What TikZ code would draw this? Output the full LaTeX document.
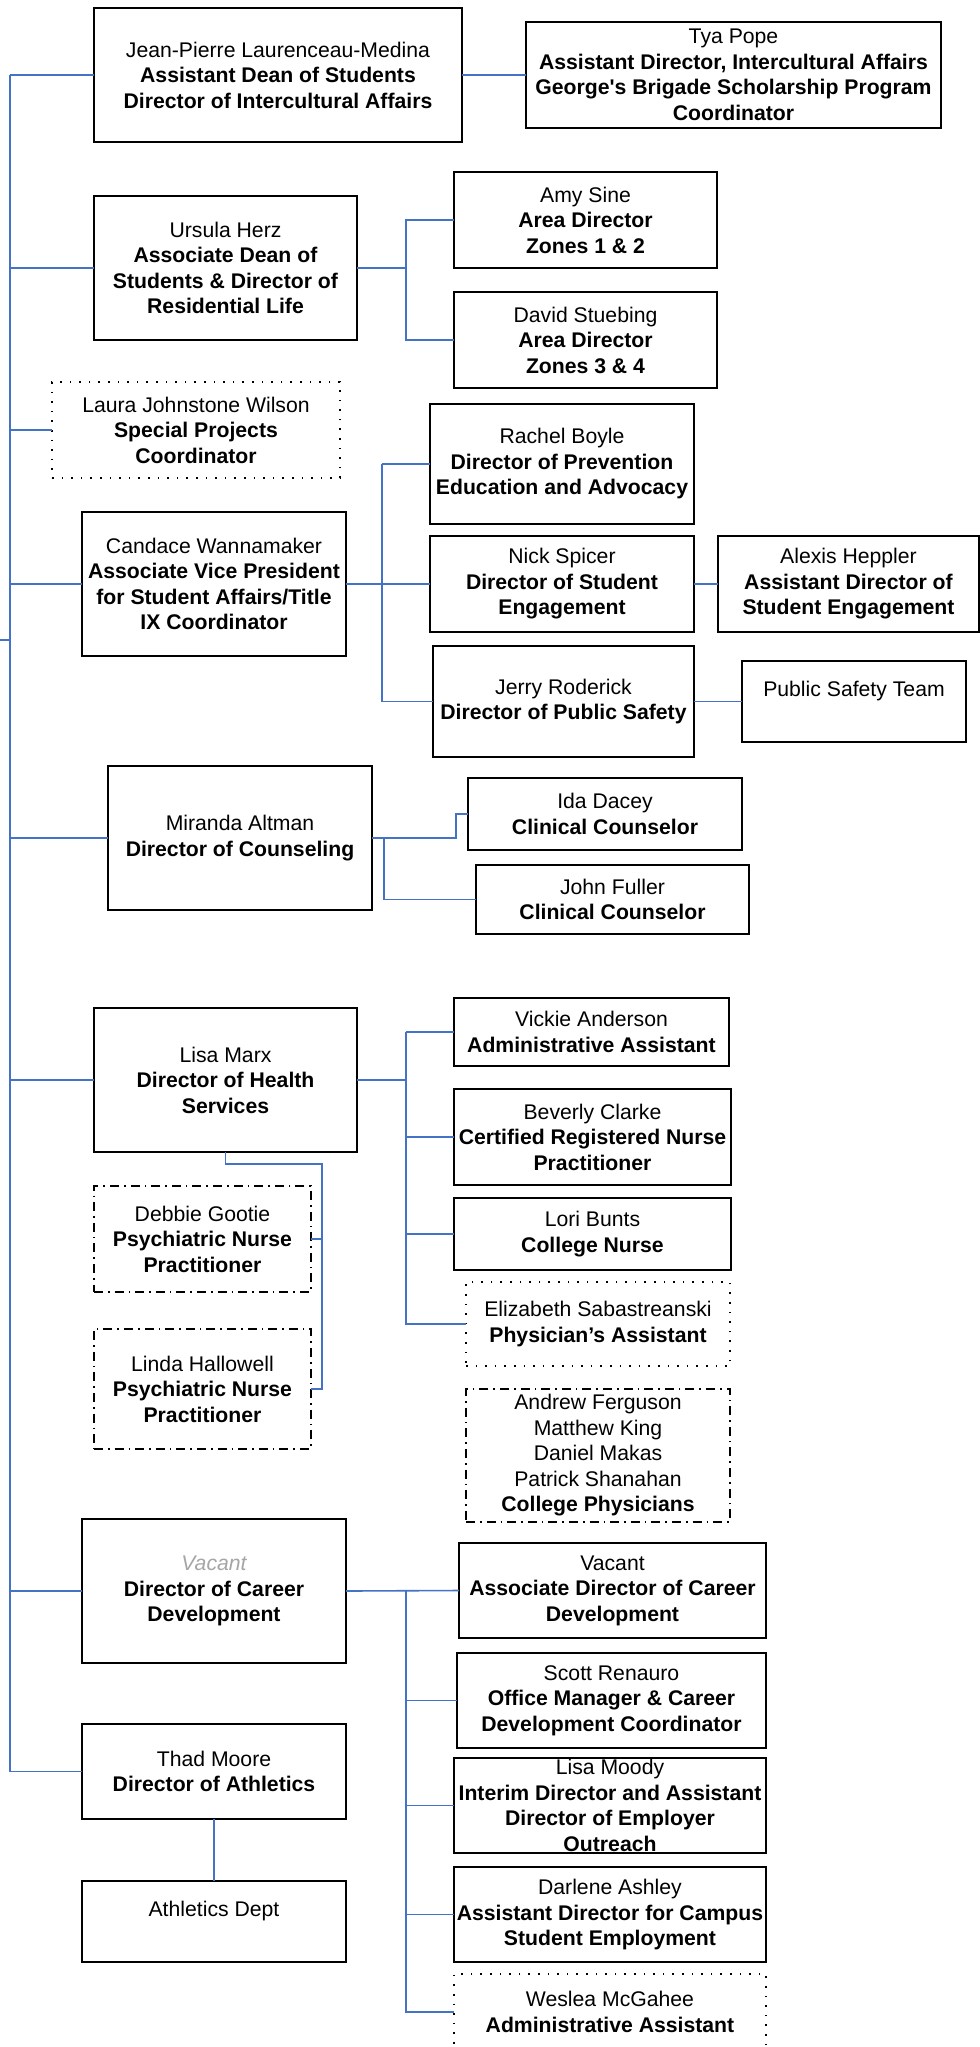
\documentclass[tikz,border=0pt]{standalone}
\usepackage{fontspec}
\setmainfont{Liberation Sans}
\usepackage{xcolor}
\usepackage{tikz}
\usetikzlibrary{calc}
\definecolor{link}{HTML}{4472C4}
\definecolor{vacant}{HTML}{A6A6A6}
\tikzset{
  post/.style={draw=black, line width=0.8pt, rectangle, align=center, inner sep=0pt, outer sep=0pt, font=\fontsize{10.6}{12.75}\selectfont},
  dotpost/.style={post, dash pattern=on 0.8pt off 4pt},
  dashdotpost/.style={post, dash pattern=on 4.5pt off 2.5pt on 0.8pt off 2.5pt},
  branch/.style={draw=link, line width=0.8pt},
}

\begin{document}
\begin{tikzpicture}[x=0.5pt,y=-0.5pt]
  \useasboundingbox (0,0) rectangle (980,2047);
  \clip (0,0) rectangle (980,2047);
  \fill[white] (0,0) rectangle (980,2047);

  % top level, left column
  \node[post, minimum width=184pt, minimum height=67pt] (jpm) at (278,75) {Jean-Pierre Laurenceau-Medina\\\textbf{Assistant Dean of Students}\\\textbf{Director of Intercultural Affairs}};
  \node[post, minimum width=131.5pt, minimum height=72pt] (herz) at (225.5,268) {Ursula Herz\\\textbf{Associate Dean of}\\\textbf{Students \& Director of}\\\textbf{Residential Life}};
  \node[dotpost, minimum width=144pt, minimum height=48pt] (wilson) at (196,430) {Laura Johnstone Wilson\\\textbf{Special Projects}\\\textbf{Coordinator}};
  \node[post, minimum width=132pt, minimum height=72pt] (wannamaker) at (214,584) {Candace Wannamaker\\\textbf{Associate Vice President}\\\textbf{for Student Affairs/Title}\\\textbf{IX Coordinator}};
  \node[post, minimum width=132pt, minimum height=72pt] (altman) at (240,838) {Miranda Altman\\\textbf{Director of Counseling}};
  \node[post, minimum width=131.5pt, minimum height=72pt] (marx) at (225.5,1080) {Lisa Marx\\\textbf{Director of Health}\\\textbf{Services}};
  \node[dashdotpost, minimum width=108.5pt, minimum height=53pt] (gootie) at (202.5,1239) {Debbie Gootie\\\textbf{Psychiatric Nurse}\\\textbf{Practitioner}};
  \node[dashdotpost, minimum width=108.5pt, minimum height=60pt] (hallowell) at (202.5,1389) {Linda Hallowell\\\textbf{Psychiatric Nurse}\\\textbf{Practitioner}};
  \node[post, minimum width=132pt, minimum height=72pt] (career) at (214,1591) {{\color{vacant}\itshape Vacant}\\\textbf{Director of Career}\\\textbf{Development}};
  \node[post, minimum width=132pt, minimum height=47.5pt] (moore) at (214,1771.5) {Thad Moore\\\textbf{Director of Athletics}};
  \node[post, minimum width=132pt, minimum height=40.5pt] (athletics) at (214,1921.5) {Athletics Dept\\~};

  % second level
  \node[post, minimum width=207.5pt, minimum height=53pt] (pope) at (733.5,75) {Tya Pope\\\textbf{Assistant Director, Intercultural Affairs}\\\textbf{George\textquotesingle s Brigade Scholarship Program}\\\textbf{Coordinator}};
  \node[post, minimum width=131.5pt, minimum height=48pt] (sine) at (585.5,220) {Amy Sine\\\textbf{Area Director}\\\textbf{Zones 1 \& 2}};
  \node[post, minimum width=131.5pt, minimum height=48pt] (stuebing) at (585.5,340) {David Stuebing\\\textbf{Area Director}\\\textbf{Zones 3 \& 4}};
  \node[post, minimum width=132pt, minimum height=60pt] (boyle) at (562,464) {Rachel Boyle\\\textbf{Director of Prevention}\\\textbf{Education and Advocacy}};
  \node[post, minimum width=132pt, minimum height=48pt] (spicer) at (562,584) {Nick Spicer\\\textbf{Director of Student}\\\textbf{Engagement}};
  \node[post, minimum width=130.5pt, minimum height=48pt] (heppler) at (848.5,584) {Alexis Heppler\\\textbf{Assistant Director of}\\\textbf{Student Engagement}};
  \node[post, minimum width=130.5pt, minimum height=55.5pt] (roderick) at (563.5,701.5) {Jerry Roderick\\\textbf{Director of Public Safety}};
  \node[post, minimum width=112pt, minimum height=40.5pt] (safety) at (854,701.5) {Public Safety Team\\~};
  \node[post, minimum width=137pt, minimum height=36pt] (dacey) at (605,814) {Ida Dacey\\\textbf{Clinical Counselor}};
  \node[post, minimum width=136.5pt, minimum height=34.5pt] (fuller) at (612.5,899.5) {John Fuller\\\textbf{Clinical Counselor}};
  \node[post, minimum width=137.5pt, minimum height=34pt] (anderson) at (591.5,1032) {Vickie Anderson\\\textbf{Administrative Assistant}};
  \node[post, minimum width=138.5pt, minimum height=48pt] (clarke) at (592.5,1137) {Beverly Clarke\\\textbf{Certified Registered Nurse}\\\textbf{Practitioner}};
  \node[post, minimum width=138.5pt, minimum height=36pt] (bunts) at (592.5,1234) {Lori Bunts\\\textbf{College Nurse}};
  \node[dotpost, minimum width=132pt, minimum height=42pt] (sabastreanski) at (598,1324) {Elizabeth Sabastreanski\\\textbf{Physician’s Assistant}};
  \node[dashdotpost, minimum width=132pt, minimum height=66.5pt] (physicians) at (598,1455.5) {Andrew Ferguson\\Matthew King\\Daniel Makas\\Patrick Shanahan\\\textbf{College Physicians}};
  \node[post, minimum width=153.5pt, minimum height=47.5pt] (assoc) at (612.5,1590.5) {Vacant\\\textbf{Associate Director of Career}\\\textbf{Development}};
  \node[post, minimum width=154.5pt, minimum height=47.5pt] (renauro) at (611.5,1700.5) {Scott Renauro\\\textbf{Office Manager \& Career}\\\textbf{Development Coordinator}};
  \node[post, minimum width=156pt, minimum height=47.5pt] (moody) at (610,1805.5) {Lisa Moody\\\textbf{Interim Director and Assistant}\\\textbf{Director of Employer}\\\textbf{Outreach}};
  \node[post, minimum width=156pt, minimum height=47.5pt] (ashley) at (610,1914.5) {Darlene Ashley\\\textbf{Assistant Director for Campus}\\\textbf{Student Employment}};
  \node[dotpost, minimum width=156pt, minimum height=38pt] (mcgahee) at (610,2012) {Weslea McGahee\\\textbf{Administrative Assistant}};

  % rails
  \coordinate (trunk) at (10,0);
  \coordinate (up) at (0,640);
  \coordinate (rail) at (406,0);
  \coordinate (wb) at (382,0);
  \coordinate (ab) at (456,0);
  \coordinate (fb) at (384,0);
  \coordinate (nb) at (322,1164);

  % trunk
  \draw[branch] (jpm.west -| trunk) -- (moore.west -| trunk);
  \draw[branch] (up) -- (up -| trunk);
  \draw[branch] (jpm.west -| trunk) -- (jpm.west);
  \draw[branch] (herz.west -| trunk) -- (herz.west);
  \draw[branch] (wilson.west -| trunk) -- (wilson.west);
  \draw[branch] (wannamaker.west -| trunk) -- (wannamaker.west);
  \draw[branch] (altman.west -| trunk) -- (altman.west);
  \draw[branch] (marx.west -| trunk) -- (marx.west);
  \draw[branch] (career.west -| trunk) -- (career.west);
  \draw[branch] (moore.west -| trunk) -- (moore.west);

  % intercultural
  \draw[branch] (jpm.east) -- (pope.west);
  % residential life
  \draw[branch] (herz.east) -- (herz.east -| rail) |- (sine.west);
  \draw[branch] (herz.east -| rail) |- (stuebing.west);
  % student affairs
  \draw[branch] (wannamaker.east) -- (spicer.west);
  \draw[branch] (boyle.west -| wb) -- (boyle.west);
  \draw[branch] (boyle.west -| wb) |- (roderick.west);
  \draw[branch] (spicer.east) -- (heppler.west);
  \draw[branch] (roderick.east) -- (safety.west);
  % counseling
  \draw[branch] (altman.east) -- (altman.east -| ab) |- (dacey.west);
  \draw[branch] (altman.east -| fb) |- (fuller.west);
  % health
  \draw[branch] (marx.east) -- (marx.east -| rail);
  \draw[branch] (anderson.west -| rail) -- (anderson.west);
  \draw[branch] (anderson.west -| rail) |- (sabastreanski.west);
  \draw[branch] (clarke.west -| rail) -- (clarke.west);
  \draw[branch] (bunts.west -| rail) -- (bunts.west);
  \draw[branch] (marx.south) |- (nb) |- (hallowell.east);
  \draw[branch] (nb |- gootie.east) -- (gootie.east);
  % career
  \draw[branch] (career.east) -- (assoc.west);
  \draw[branch] (assoc.west -| rail) |- (mcgahee.west);
  \draw[branch] (renauro.west -| rail) -- (renauro.west);
  \draw[branch] (moody.west -| rail) -- (moody.west);
  \draw[branch] (ashley.west -| rail) -- (ashley.west);
  % athletics
  \draw[branch] (moore.south) -- (athletics.north);
\end{tikzpicture}
\end{document}
